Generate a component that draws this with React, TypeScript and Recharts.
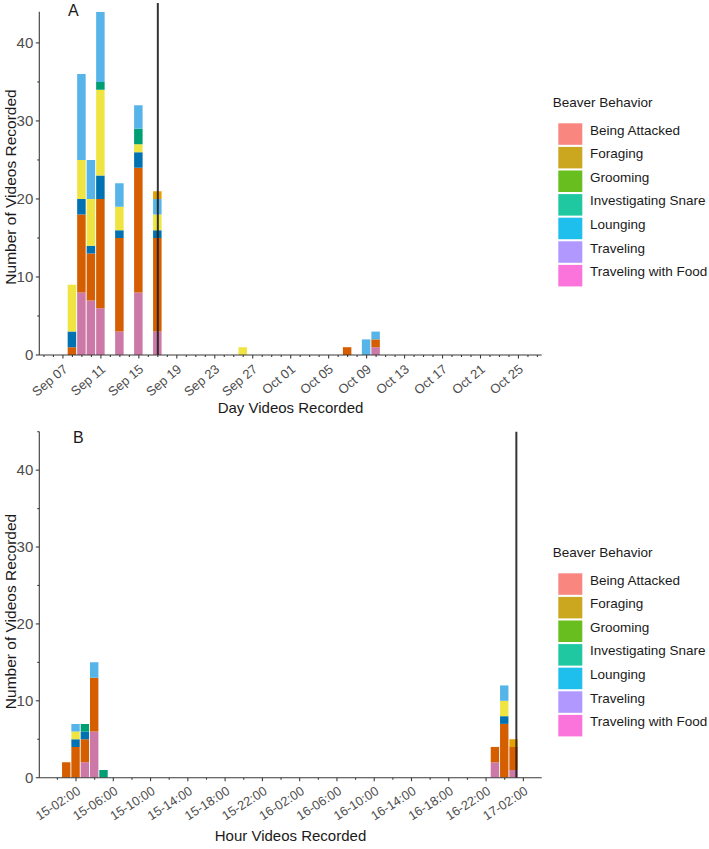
import { Bar, BarChart, ReferenceLine, XAxis, YAxis } from "recharts";

// Fill used on the bars (Okabe-Ito) and the colours shown in the legend keys (ggplot hue).
const BEHAVIORS = [
  "Being Attacked",
  "Foraging",
  "Grooming",
  "Investigating Snare",
  "Lounging",
  "Traveling",
  "Traveling with Food",
];
const SERIES_KEYS = ["attacked", "foraging", "grooming", "snare", "lounging", "traveling", "food"];
const BAR_COLORS = ["#E69F00", "#56B4E9", "#009E73", "#F0E442", "#0072B2", "#D55E00", "#CC79A7"];
const LEGEND_COLORS = ["#F8766D", "#C49A00", "#53B400", "#00C094", "#00B6EB", "#A58AFF", "#FB61D7"];

// Panel A: days after Sep 07
const DAYS = [1, 2, 3, 4, 6, 8, 10, 19, 30, 32, 33];
const DAY_ATTACKED = [0, 0, 0, 0, 0, 0, 1, 0, 0, 0, 0];
const DAY_FORAGING = [0, 11, 5, 9, 3, 3, 2, 0, 0, 2, 1];
const DAY_GROOMING = [0, 0, 0, 1, 0, 2, 0, 0, 0, 0, 0];
const DAY_SNARE = [6, 5, 6, 11, 3, 1, 2, 1, 0, 0, 0];
const DAY_LOUNGING = [2, 2, 1, 3, 1, 2, 1, 0, 0, 0, 0];
const DAY_TRAVELING = [1, 10, 6, 14, 12, 16, 12, 0, 1, 0, 1];
const DAY_FOOD = [0, 8, 7, 6, 3, 8, 3, 0, 0, 0, 1];
const DAY_TICK_LABELS = [
  "Sep 07", "Sep 11", "Sep 15", "Sep 19", "Sep 23", "Sep 27", "Oct 01",
  "Oct 05", "Oct 09", "Oct 13", "Oct 17", "Oct 21", "Oct 25",
];
const CAPTURE_DAY = 10;

// Panel B: hours after 15-02:00
const HOURS = [-1, 0, 1, 2, 3, 45, 46, 47];
const HOUR_ATTACKED = [0, 0, 0, 0, 0, 0, 0, 1];
const HOUR_FORAGING = [0, 1, 0, 2, 0, 0, 2, 0];
const HOUR_GROOMING = [0, 0, 1, 0, 1, 0, 0, 0];
const HOUR_SNARE = [0, 1, 0, 0, 0, 0, 2, 0];
const HOUR_LOUNGING = [0, 1, 1, 0, 0, 0, 1, 0];
const HOUR_TRAVELING = [2, 4, 3, 7, 0, 2, 7, 3];
const HOUR_FOOD = [0, 0, 2, 6, 0, 2, 0, 1];
const HOUR_TICK_LABELS = [
  "15-02:00", "15-06:00", "15-10:00", "15-14:00", "15-18:00", "15-22:00", "16-02:00",
  "16-06:00", "16-10:00", "16-14:00", "16-18:00", "16-22:00", "17-02:00",
];
const CAPTURE_HOUR = 47.25;

const FONT = '"Liberation Sans", Arial, Helvetica, sans-serif';
const AXIS = "#3a3a3a";
const TICK_TEXT = "#4d4d4d";
const TITLE = "#1a1a1a";

function buildRows(t: number[], cols: number[][]) {
  return t.map((v, i) => {
    const row: Record<string, number> = { t: v };
    SERIES_KEYS.forEach((k, j) => (row[k] = cols[j][i]));
    return row;
  });
}

const dayRows = buildRows(DAYS, [
  DAY_ATTACKED, DAY_FORAGING, DAY_GROOMING, DAY_SNARE, DAY_LOUNGING, DAY_TRAVELING, DAY_FOOD,
]);
const hourRows = buildRows(HOURS, [
  HOUR_ATTACKED, HOUR_FORAGING, HOUR_GROOMING, HOUR_SNARE, HOUR_LOUNGING, HOUR_TRAVELING, HOUR_FOOD,
]);

const range = (a: number, b: number, step: number) => {
  const out: number[] = [];
  for (let v = a; v <= b; v += step) out.push(v);
  return out;
};

function makeXTick(labels: string[], angle: number, fontSize: number) {
  return (props: any) => {
    const { x, y, payload } = props;
    const v = payload.value as number;
    const major = v % 4 === 0 && v >= 0 && v / 4 < labels.length;
    const ax = x + 5.5;
    const ay = y + 15.5;
    return (
      <g>
        <line x1={x} x2={x} y1={y} y2={y + (major ? 3.5 : 2)} stroke={AXIS} strokeWidth={1.1} />
        {major && (
          <text
            x={ax}
            y={ay}
            transform={`rotate(${-angle} ${ax} ${ay})`}
            textAnchor="end"
            fontSize={fontSize}
            fontFamily={FONT}
            fill={TICK_TEXT}
          >
            {labels[v / 4]}
          </text>
        )}
      </g>
    );
  };
}

function CountTick(props: any) {
  const { x, y, payload } = props;
  const v = payload.value as number;
  const major = v % 10 === 0;
  return (
    <g>
      <line x1={x - (major ? 3.5 : 2)} x2={x} y1={y} y2={y} stroke={AXIS} strokeWidth={1.1} />
      {major && (
        <text x={x - 6} y={y + 5.3} textAnchor="end" fontSize={15} fontFamily={FONT} fill={TICK_TEXT}>
          {v}
        </text>
      )}
    </g>
  );
}

type PanelProps = {
  rows: Record<string, number>[];
  xDomain: [number, number];
  xTicks: number[];
  yMax: number;
  yTicks: number[];
  labels: string[];
  angle: number;
  labelSize: number;
  vline: number;
  vlineTop: number;
  barSize: number;
  height: number;
  xAxisHeight: number;
};

function Panel(p: PanelProps) {
  // stacked bottom → top: last factor level first
  const order = [6, 5, 4, 3, 2, 1, 0];
  return (
    <BarChart
      width={560}
      height={p.height}
      data={p.rows}
      margin={{ top: 11.7, right: 18.3, left: 0, bottom: 0 }}
      barSize={p.barSize}
    >
      <XAxis
        dataKey="t"
        type="number"
        domain={p.xDomain}
        allowDataOverflow
        ticks={p.xTicks}
        interval={0}
        height={p.xAxisHeight}
        tickSize={0}
        tickMargin={0}
        tickLine={false}
        axisLine={{ stroke: AXIS, strokeWidth: 1.1 }}
        tick={makeXTick(p.labels, p.angle, p.labelSize)}
      />
      <YAxis
        type="number"
        domain={[0, p.yMax]}
        allowDataOverflow
        ticks={p.yTicks}
        interval={0}
        width={39.3}
        tickSize={0}
        tickMargin={0}
        tickLine={false}
        axisLine={{ stroke: AXIS, strokeWidth: 1.1 }}
        tick={CountTick}
      />
      {order.map((i) => (
        <Bar
          key={SERIES_KEYS[i]}
          dataKey={SERIES_KEYS[i]}
          name={BEHAVIORS[i]}
          stackId="a"
          fill={BAR_COLORS[i]}
          isAnimationActive={false}
        />
      ))}
      <ReferenceLine
        segment={[
          { x: p.vline, y: 0 },
          { x: p.vline, y: p.vlineTop },
        ]}
        ifOverflow="visible"
        stroke="#1e1e1e"
        strokeOpacity={0.9}
        strokeWidth={2}
      />
    </BarChart>
  );
}

function Legend({ top }: { top: number }) {
  return (
    <g>
      <text x={552.7} y={top} fontSize={13.5} fontFamily={FONT} fill={TITLE}>
        Beaver Behavior
      </text>
      {BEHAVIORS.map((b, i) => {
        const ky = top + 16 + i * 23.6;
        return (
          <g key={b}>
            <rect x={558.3} y={ky} width={24} height={21.5} fill={LEGEND_COLORS[i]} fillOpacity={0.88} />
            <text x={590} y={ky + 11.3} fontSize={13.5} fontFamily={FONT} fill={TITLE}>
              {b}
            </text>
          </g>
        );
      })}
    </g>
  );
}

export default function App() {
  return (
    <div style={{ position: "absolute", left: 0, top: 0, width: 709, height: 849, background: "#fff", fontFamily: FONT }}>
      <div style={{ position: "absolute", left: 0, top: 0 }}>
        <Panel
          rows={dayRows}
          xDomain={[-2.49, 50.45]}
          xTicks={range(-2, 50, 1)}
          yMax={44}
          yTicks={range(0, 40, 5)}
          labels={DAY_TICK_LABELS}
          angle={40}
          labelSize={13}
          vline={CAPTURE_DAY}
          vlineTop={45.1}
          barSize={8.5}
          height={420}
          xAxisHeight={65}
        />
      </div>
      <div style={{ position: "absolute", left: 0, top: 420 }}>
        <Panel
          rows={hourRows}
          xDomain={[-3.94, 49.97]}
          xTicks={range(-2, 48, 2)}
          yMax={45}
          yTicks={range(0, 45, 5)}
          labels={HOUR_TICK_LABELS}
          angle={33}
          labelSize={12.8}
          vline={CAPTURE_HOUR}
          vlineTop={45}
          barSize={8.4}
          height={429}
          xAxisHeight={71.3}
        />
      </div>
      <svg
        width={709}
        height={849}
        style={{ position: "absolute", left: 0, top: 0, pointerEvents: "none" }}
      >
        <text x={68} y={15.5} fontSize={16} fontFamily={FONT} fill={TITLE}>A</text>
        <text x={73} y={443} fontSize={16} fontFamily={FONT} fill={TITLE}>B</text>
        <text
          x={16.3}
          y={187}
          transform="rotate(-90 16.3 187)"
          textAnchor="middle"
          fontSize={15.5}
          fontFamily={FONT}
          fill={TITLE}
        >
          Number of Videos Recorded
        </text>
        <text
          x={16.3}
          y={611.5}
          transform="rotate(-90 16.3 611.5)"
          textAnchor="middle"
          fontSize={15.5}
          fontFamily={FONT}
          fill={TITLE}
        >
          Number of Videos Recorded
        </text>
        <text x={290.5} y={413} textAnchor="middle" fontSize={15} fontFamily={FONT} fill={TITLE}>
          Day Videos Recorded
        </text>
        <text x={290.5} y={841} textAnchor="middle" fontSize={15} fontFamily={FONT} fill={TITLE}>
          Hour Videos Recorded
        </text>
        <Legend top={107.3} />
        <Legend top={557.3} />
      </svg>
    </div>
  );
}
